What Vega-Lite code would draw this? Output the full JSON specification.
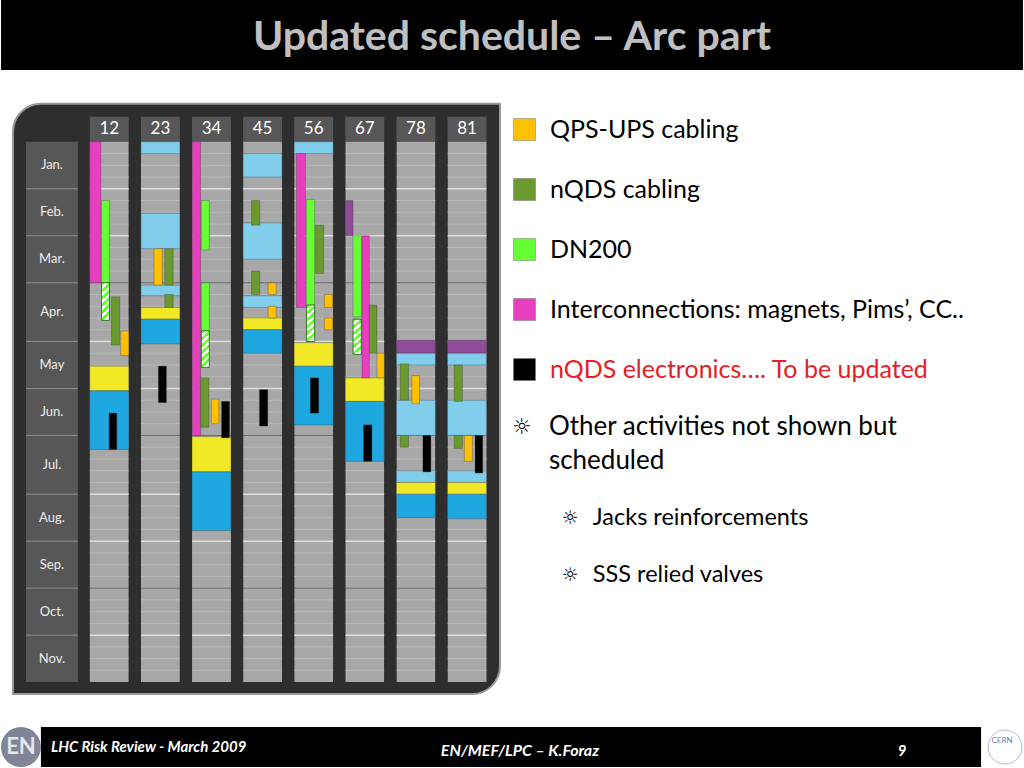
{
  "$schema": "https://vega.github.io/schema/vega-lite/v6.json",
  "width": 1024,
  "height": 768,
  "autosize": {"type": "fit", "contains": "padding"},
  "padding": 0,
  "background": "#ffffff",
  "config": {"view": {"stroke": null}, "text": {"font": "Lato"}},
  "encoding": {
    "x": {"field": "x0", "type": "quantitative", "scale": {"domain": [-1.73828, 18.26172], "nice": false, "zero": false}, "axis": null},
    "y": {"field": "y0", "type": "quantitative", "scale": {"domain": [-12.0738, 53.2268], "nice": false, "zero": false, "reverse": true}, "axis": null}
  },
  "layer": [
    {
      "data": {"values": [{"x0": -1.73828, "x1": 18.26172, "y0": -12.0738, "y1": -6.1223}]},
      "mark": {"type": "rect", "fill": "#000000"},
      "encoding": {"x2": {"field": "x1"}, "y2": {"field": "y1"}}
    },
    {
      "data": {"values": [{"label": "Updated schedule – Arc part", "x0": 8.262, "y0": -7.822}]},
      "mark": {"type": "text", "font": "Lato", "fontWeight": "bold", "fontSize": 41, "fill": "#c0c0c0", "align": "center", "baseline": "alphabetic"},
      "encoding": {"text": {"field": "label"}}
    },
    {
      "data": {"values": [{"x0": -1.504, "x1": 8.027, "y0": -3.231, "y1": 47.02}]},
      "mark": {"type": "rect", "fill": "#2e2e2e", "stroke": "#9a9a9a", "strokeWidth": 2, "cornerRadiusTopLeft": 28, "cornerRadiusBottomRight": 28},
      "encoding": {"x2": {"field": "x1"}, "y2": {"field": "y1"}}
    },
    {
      "data": {"values": [{"x0": -1.25, "x1": -0.234, "y0": 0, "y1": 46}]},
      "mark": {"type": "rect", "fill": "#575757"},
      "encoding": {"x2": {"field": "x1"}, "y2": {"field": "y1"}}
    },
    {
      "data": {"values": [
        {"x0": -1.25, "x1": -0.234, "y0": 4}, {"x0": -1.25, "x1": -0.234, "y0": 8},
        {"x0": -1.25, "x1": -0.234, "y0": 12}, {"x0": -1.25, "x1": -0.234, "y0": 17},
        {"x0": -1.25, "x1": -0.234, "y0": 21}, {"x0": -1.25, "x1": -0.234, "y0": 25},
        {"x0": -1.25, "x1": -0.234, "y0": 30}, {"x0": -1.25, "x1": -0.234, "y0": 34},
        {"x0": -1.25, "x1": -0.234, "y0": 38}, {"x0": -1.25, "x1": -0.234, "y0": 42}
      ]},
      "mark": {"type": "rule", "stroke": "#8a8a8a", "strokeWidth": 1},
      "encoding": {"x2": {"field": "x1"}}
    },
    {
      "data": {"values": [
        {"month": "Jan.", "x0": -0.742, "y0": 2}, {"month": "Feb.", "x0": -0.742, "y0": 6},
        {"month": "Mar.", "x0": -0.742, "y0": 10}, {"month": "Apr.", "x0": -0.742, "y0": 14.5},
        {"month": "May", "x0": -0.742, "y0": 19}, {"month": "Jun.", "x0": -0.742, "y0": 23},
        {"month": "Jul.", "x0": -0.742, "y0": 27.5}, {"month": "Aug.", "x0": -0.742, "y0": 32},
        {"month": "Sep.", "x0": -0.742, "y0": 36}, {"month": "Oct.", "x0": -0.742, "y0": 40},
        {"month": "Nov.", "x0": -0.742, "y0": 44}
      ]},
      "mark": {"type": "text", "font": "Lato", "fontSize": 13, "fill": "#ececec", "align": "center", "baseline": "middle"},
      "encoding": {"text": {"field": "month"}}
    },
    {
      "data": {"values": [
        {"x0": 0, "x1": 0.762, "y0": -2.126, "y1": 0}, {"x0": 1, "x1": 1.762, "y0": -2.126, "y1": 0},
        {"x0": 2, "x1": 2.762, "y0": -2.126, "y1": 0}, {"x0": 3, "x1": 3.762, "y0": -2.126, "y1": 0},
        {"x0": 4, "x1": 4.762, "y0": -2.126, "y1": 0}, {"x0": 5, "x1": 5.762, "y0": -2.126, "y1": 0},
        {"x0": 6, "x1": 6.762, "y0": -2.126, "y1": 0}, {"x0": 7, "x1": 7.762, "y0": -2.126, "y1": 0}
      ]},
      "mark": {"type": "rect", "fill": "#575757"},
      "encoding": {"x2": {"field": "x1"}, "y2": {"field": "y1"}}
    },
    {
      "data": {"values": [
        {"sector": "12", "x0": 0.381, "y0": -1.105}, {"sector": "23", "x0": 1.381, "y0": -1.105},
        {"sector": "34", "x0": 2.381, "y0": -1.105}, {"sector": "45", "x0": 3.381, "y0": -1.105},
        {"sector": "56", "x0": 4.381, "y0": -1.105}, {"sector": "67", "x0": 5.381, "y0": -1.105},
        {"sector": "78", "x0": 6.381, "y0": -1.105}, {"sector": "81", "x0": 7.381, "y0": -1.105}
      ]},
      "mark": {"type": "text", "font": "Lato", "fontSize": 17, "fill": "#ffffff", "align": "center", "baseline": "middle"},
      "encoding": {"text": {"field": "sector"}}
    },
    {
      "data": {"values": [
        {"x0": 0, "x1": 0.762, "y0": 0, "y1": 46}, {"x0": 1, "x1": 1.762, "y0": 0, "y1": 46},
        {"x0": 2, "x1": 2.762, "y0": 0, "y1": 46}, {"x0": 3, "x1": 3.762, "y0": 0, "y1": 46},
        {"x0": 4, "x1": 4.762, "y0": 0, "y1": 46}, {"x0": 5, "x1": 5.762, "y0": 0, "y1": 46},
        {"x0": 6, "x1": 6.762, "y0": 0, "y1": 46}, {"x0": 7, "x1": 7.762, "y0": 0, "y1": 46}
      ]},
      "mark": {"type": "rect", "fill": "#a8a8a8"},
      "encoding": {"x2": {"field": "x1"}, "y2": {"field": "y1"}}
    },
    {
      "data": {"values": [
        {"x0": 0, "x1": 7.762, "y0": 1}, {"x0": 0, "x1": 7.762, "y0": 2}, {"x0": 0, "x1": 7.762, "y0": 3},
        {"x0": 0, "x1": 7.762, "y0": 5}, {"x0": 0, "x1": 7.762, "y0": 6}, {"x0": 0, "x1": 7.762, "y0": 7},
        {"x0": 0, "x1": 7.762, "y0": 9}, {"x0": 0, "x1": 7.762, "y0": 10}, {"x0": 0, "x1": 7.762, "y0": 11},
        {"x0": 0, "x1": 7.762, "y0": 13}, {"x0": 0, "x1": 7.762, "y0": 14}, {"x0": 0, "x1": 7.762, "y0": 15},
        {"x0": 0, "x1": 7.762, "y0": 16}, {"x0": 0, "x1": 7.762, "y0": 18}, {"x0": 0, "x1": 7.762, "y0": 19},
        {"x0": 0, "x1": 7.762, "y0": 20}, {"x0": 0, "x1": 7.762, "y0": 22}, {"x0": 0, "x1": 7.762, "y0": 23},
        {"x0": 0, "x1": 7.762, "y0": 24}, {"x0": 0, "x1": 7.762, "y0": 26}, {"x0": 0, "x1": 7.762, "y0": 27},
        {"x0": 0, "x1": 7.762, "y0": 28}, {"x0": 0, "x1": 7.762, "y0": 29}, {"x0": 0, "x1": 7.762, "y0": 31},
        {"x0": 0, "x1": 7.762, "y0": 32}, {"x0": 0, "x1": 7.762, "y0": 33}, {"x0": 0, "x1": 7.762, "y0": 35},
        {"x0": 0, "x1": 7.762, "y0": 36}, {"x0": 0, "x1": 7.762, "y0": 37}, {"x0": 0, "x1": 7.762, "y0": 39},
        {"x0": 0, "x1": 7.762, "y0": 40}, {"x0": 0, "x1": 7.762, "y0": 41}, {"x0": 0, "x1": 7.762, "y0": 43},
        {"x0": 0, "x1": 7.762, "y0": 44}, {"x0": 0, "x1": 7.762, "y0": 45}
      ]},
      "mark": {"type": "rule", "stroke": "#b8b8b8", "strokeWidth": 1},
      "encoding": {"x2": {"field": "x1"}}
    },
    {
      "data": {"values": [
        {"x0": 0, "x1": 7.762, "y0": 4}, {"x0": 0, "x1": 7.762, "y0": 8}, {"x0": 0, "x1": 7.762, "y0": 17},
        {"x0": 0, "x1": 7.762, "y0": 21}, {"x0": 0, "x1": 7.762, "y0": 30}, {"x0": 0, "x1": 7.762, "y0": 34},
        {"x0": 0, "x1": 7.762, "y0": 42}
      ]},
      "mark": {"type": "rule", "stroke": "#dedede", "strokeWidth": 1.5},
      "encoding": {"x2": {"field": "x1"}}
    },
    {
      "data": {"values": [
        {"x0": 0, "x1": 7.762, "y0": 12}, {"x0": 0, "x1": 7.762, "y0": 25}, {"x0": 0, "x1": 7.762, "y0": 38}
      ]},
      "mark": {"type": "rule", "stroke": "#6e6e6e", "strokeWidth": 1},
      "encoding": {"x2": {"field": "x1"}}
    },
    {
      "data": {"values": [
        {"x0": 0.762, "x1": 1, "y0": 0, "y1": 46}, {"x0": 1.762, "x1": 2, "y0": 0, "y1": 46},
        {"x0": 2.762, "x1": 3, "y0": 0, "y1": 46}, {"x0": 3.762, "x1": 4, "y0": 0, "y1": 46},
        {"x0": 4.762, "x1": 5, "y0": 0, "y1": 46}, {"x0": 5.762, "x1": 6, "y0": 0, "y1": 46},
        {"x0": 6.762, "x1": 7, "y0": 0, "y1": 46}
      ]},
      "mark": {"type": "rect", "fill": "#2e2e2e"},
      "encoding": {"x2": {"field": "x1"}, "y2": {"field": "y1"}}
    },
    {
      "data": {"values": [
        {"sector": "12", "activity": "Yellow phase", "x0": 0, "x1": 0.762, "y0": 19.1, "y1": 21.2},
        {"sector": "12", "activity": "Blue phase", "x0": 0, "x1": 0.762, "y0": 21.2, "y1": 26.2},
        {"sector": "23", "activity": "Light-blue phase", "x0": 1, "x1": 1.762, "y0": 0, "y1": 1},
        {"sector": "23", "activity": "Light-blue phase", "x0": 1, "x1": 1.762, "y0": 6.1, "y1": 9.1},
        {"sector": "23", "activity": "Light-blue phase", "x0": 1, "x1": 1.762, "y0": 12.2, "y1": 13.1},
        {"sector": "23", "activity": "Yellow phase", "x0": 1, "x1": 1.762, "y0": 14.1, "y1": 15.1},
        {"sector": "23", "activity": "Blue phase", "x0": 1, "x1": 1.762, "y0": 15.1, "y1": 17.2},
        {"sector": "34", "activity": "Yellow phase", "x0": 2, "x1": 2.762, "y0": 25.1, "y1": 28.1},
        {"sector": "34", "activity": "Blue phase", "x0": 2, "x1": 2.762, "y0": 28.1, "y1": 33.1},
        {"sector": "45", "activity": "Light-blue phase", "x0": 3, "x1": 3.762, "y0": 1, "y1": 3},
        {"sector": "45", "activity": "Light-blue phase", "x0": 3, "x1": 3.762, "y0": 6.9, "y1": 10},
        {"sector": "45", "activity": "Light-blue phase", "x0": 3, "x1": 3.762, "y0": 13.1, "y1": 14.1},
        {"sector": "45", "activity": "Yellow phase", "x0": 3, "x1": 3.762, "y0": 15, "y1": 16},
        {"sector": "45", "activity": "Blue phase", "x0": 3, "x1": 3.762, "y0": 16, "y1": 18},
        {"sector": "56", "activity": "Light-blue phase", "x0": 4, "x1": 4.762, "y0": 0, "y1": 1},
        {"sector": "56", "activity": "Yellow phase", "x0": 4, "x1": 4.762, "y0": 17.1, "y1": 19.1},
        {"sector": "56", "activity": "Blue phase", "x0": 4, "x1": 4.762, "y0": 19.1, "y1": 24.1},
        {"sector": "67", "activity": "Yellow phase", "x0": 5, "x1": 5.762, "y0": 20.1, "y1": 22.1},
        {"sector": "67", "activity": "Blue phase", "x0": 5, "x1": 5.762, "y0": 22.1, "y1": 27.2},
        {"sector": "78", "activity": "Purple phase", "x0": 6, "x1": 6.762, "y0": 16.9, "y1": 18},
        {"sector": "78", "activity": "Light-blue phase", "x0": 6, "x1": 6.762, "y0": 18, "y1": 19},
        {"sector": "78", "activity": "Light-blue phase", "x0": 6, "x1": 6.762, "y0": 22, "y1": 25},
        {"sector": "78", "activity": "Light-blue phase", "x0": 6, "x1": 6.762, "y0": 28, "y1": 29},
        {"sector": "78", "activity": "Yellow phase", "x0": 6, "x1": 6.762, "y0": 29, "y1": 30},
        {"sector": "78", "activity": "Blue phase", "x0": 6, "x1": 6.762, "y0": 30, "y1": 32},
        {"sector": "81", "activity": "Purple phase", "x0": 7, "x1": 7.762, "y0": 16.9, "y1": 18},
        {"sector": "81", "activity": "Light-blue phase", "x0": 7, "x1": 7.762, "y0": 18, "y1": 19},
        {"sector": "81", "activity": "Light-blue phase", "x0": 7, "x1": 7.762, "y0": 22, "y1": 25},
        {"sector": "81", "activity": "Light-blue phase", "x0": 7, "x1": 7.762, "y0": 28, "y1": 29},
        {"sector": "81", "activity": "Yellow phase", "x0": 7, "x1": 7.762, "y0": 29, "y1": 30},
        {"sector": "81", "activity": "Blue phase", "x0": 7, "x1": 7.762, "y0": 30, "y1": 32.1},

        {"sector": "12", "activity": "Interconnections", "x0": 0, "x1": 0.215, "y0": 0, "y1": 12},
        {"sector": "12", "activity": "DN200", "x0": 0.229, "x1": 0.385, "y0": 5, "y1": 12},
        {"sector": "12", "activity": "nQDS cabling", "x0": 0.424, "x1": 0.586, "y0": 13.2, "y1": 17.3},
        {"sector": "12", "activity": "QPS-UPS cabling", "x0": 0.605, "x1": 0.762, "y0": 16.1, "y1": 18.2},
        {"sector": "23", "activity": "QPS-UPS cabling", "x0": 1.256, "x1": 1.42, "y0": 9.1, "y1": 12.2},
        {"sector": "23", "activity": "nQDS cabling", "x0": 1.467, "x1": 1.631, "y0": 9.1, "y1": 12.2},
        {"sector": "23", "activity": "nQDS cabling", "x0": 1.467, "x1": 1.631, "y0": 13, "y1": 14.1},
        {"sector": "34", "activity": "Interconnections", "x0": 2.006, "x1": 2.168, "y0": 0, "y1": 25},
        {"sector": "34", "activity": "DN200", "x0": 2.182, "x1": 2.338, "y0": 5, "y1": 9.2},
        {"sector": "34", "activity": "DN200", "x0": 2.182, "x1": 2.338, "y0": 12, "y1": 16.1},
        {"sector": "34", "activity": "nQDS cabling", "x0": 2.168, "x1": 2.33, "y0": 20.1, "y1": 24.3},
        {"sector": "34", "activity": "QPS-UPS cabling", "x0": 2.377, "x1": 2.525, "y0": 21.9, "y1": 24},
        {"sector": "45", "activity": "nQDS cabling", "x0": 3.164, "x1": 3.326, "y0": 5, "y1": 7.1},
        {"sector": "45", "activity": "nQDS cabling", "x0": 3.164, "x1": 3.326, "y0": 11, "y1": 13},
        {"sector": "45", "activity": "QPS-UPS cabling", "x0": 3.49, "x1": 3.646, "y0": 12, "y1": 13},
        {"sector": "45", "activity": "QPS-UPS cabling", "x0": 3.49, "x1": 3.646, "y0": 14, "y1": 15},
        {"sector": "56", "activity": "Interconnections", "x0": 4.043, "x1": 4.219, "y0": 1, "y1": 14.1},
        {"sector": "56", "activity": "DN200", "x0": 4.238, "x1": 4.4, "y0": 4.9, "y1": 13.9},
        {"sector": "56", "activity": "nQDS cabling", "x0": 4.414, "x1": 4.576, "y0": 7.1, "y1": 11.2},
        {"sector": "56", "activity": "QPS-UPS cabling", "x0": 4.59, "x1": 4.752, "y0": 13, "y1": 14.1},
        {"sector": "56", "activity": "QPS-UPS cabling", "x0": 4.59, "x1": 4.752, "y0": 15, "y1": 16},
        {"sector": "67", "activity": "Purple phase", "x0": 5, "x1": 5.15, "y0": 5, "y1": 8},
        {"sector": "67", "activity": "DN200", "x0": 5.15, "x1": 5.313, "y0": 8, "y1": 14.9},
        {"sector": "67", "activity": "Interconnections", "x0": 5.326, "x1": 5.469, "y0": 8, "y1": 20.1},
        {"sector": "67", "activity": "nQDS cabling", "x0": 5.469, "x1": 5.619, "y0": 13.9, "y1": 18},
        {"sector": "67", "activity": "QPS-UPS cabling", "x0": 5.619, "x1": 5.762, "y0": 18, "y1": 20.1},
        {"sector": "78", "activity": "nQDS cabling", "x0": 6.074, "x1": 6.236, "y0": 18.9, "y1": 22},
        {"sector": "78", "activity": "QPS-UPS cabling", "x0": 6.303, "x1": 6.451, "y0": 19.9, "y1": 22.3},
        {"sector": "78", "activity": "nQDS cabling", "x0": 6.074, "x1": 6.236, "y0": 25, "y1": 26},
        {"sector": "81", "activity": "nQDS cabling", "x0": 7.129, "x1": 7.291, "y0": 19, "y1": 22.1},
        {"sector": "81", "activity": "nQDS cabling", "x0": 7.129, "x1": 7.291, "y0": 25, "y1": 26.1},
        {"sector": "81", "activity": "QPS-UPS cabling", "x0": 7.33, "x1": 7.486, "y0": 25, "y1": 27.2},

        {"sector": "12", "activity": "nQDS electronics", "x0": 0.377, "x1": 0.527, "y0": 23.1, "y1": 26.2},
        {"sector": "23", "activity": "nQDS electronics", "x0": 1.342, "x1": 1.498, "y0": 19.1, "y1": 22.2},
        {"sector": "34", "activity": "nQDS electronics", "x0": 2.578, "x1": 2.734, "y0": 22.1, "y1": 25.2},
        {"sector": "45", "activity": "nQDS electronics", "x0": 3.32, "x1": 3.482, "y0": 21.1, "y1": 24.2},
        {"sector": "56", "activity": "nQDS electronics", "x0": 4.316, "x1": 4.479, "y0": 20.1, "y1": 23.1},
        {"sector": "67", "activity": "nQDS electronics", "x0": 5.357, "x1": 5.521, "y0": 24.1, "y1": 27.2},
        {"sector": "78", "activity": "nQDS electronics", "x0": 6.518, "x1": 6.674, "y0": 25, "y1": 28.1},
        {"sector": "81", "activity": "nQDS electronics", "x0": 7.539, "x1": 7.689, "y0": 25, "y1": 28.2}
      ]},
      "mark": {"type": "rect", "stroke": "#333333", "strokeOpacity": 0.4, "strokeWidth": 0.8},
      "encoding": {
        "x2": {"field": "x1"},
        "y2": {"field": "y1"},
        "color": {
          "field": "activity",
          "type": "nominal",
          "scale": {
            "domain": ["QPS-UPS cabling", "nQDS cabling", "DN200", "Interconnections", "nQDS electronics", "Light-blue phase", "Yellow phase", "Blue phase", "Purple phase"],
            "range": ["#ffc000", "#6a9a2e", "#66ff33", "#e83fc1", "#000000", "#80cdec", "#f1e926", "#1fa7e0", "#8e4c97"]
          },
          "legend": {
            "orient": "none",
            "legendX": 511,
            "legendY": 117,
            "title": null,
            "padding": 0,
            "values": ["QPS-UPS cabling", "nQDS cabling", "DN200", "Interconnections", "nQDS electronics"],
            "symbolType": "square",
            "symbolSize": 484,
            "symbolStrokeColor": "#777777",
            "symbolStrokeWidth": 0.5,
            "symbolOpacity": 1,
            "labelFont": "Lato",
            "labelFontSize": 25,
            "labelColor": "#000000",
            "labelOffset": 13,
            "labelLimit": 700,
            "rowPadding": 34,
            "labelExpr": "datum.value == 'Interconnections' ? 'Interconnections: magnets, Pims’, CC..' : (datum.value == 'nQDS electronics' ? 'nQDS electronics…. To be updated' : datum.label)",
            "encode": {"labels": {"update": {"fill": {"signal": "datum.value === 'nQDS electronics' ? '#e81c24' : '#000000'"}}}}
          }
        }
      }
    },
    {
      "data": {"values": [
        {"sector": "12", "activity": "DN200 (hatched)", "x0": 0.229, "x1": 0.385, "y0": 12, "y1": 15.2},
        {"sector": "34", "activity": "DN200 (hatched)", "x0": 2.182, "x1": 2.338, "y0": 16.1, "y1": 19.2},
        {"sector": "56", "activity": "DN200 (hatched)", "x0": 4.238, "x1": 4.4, "y0": 13.9, "y1": 17},
        {"sector": "67", "activity": "DN200 (hatched)", "x0": 5.15, "x1": 5.313, "y0": 15.1, "y1": 18.1}
      ]},
      "mark": {
        "type": "rect",
        "stroke": "#2f7a1f",
        "strokeWidth": 1,
        "fill": {
          "gradient": "linear", "x1": 0, "y1": 0, "x2": 0.2, "y2": 1,
          "stops": [
            {"offset": 0, "color": "#66ff33"}, {"offset": 0.09, "color": "#66ff33"},
            {"offset": 0.09, "color": "#ffffff"}, {"offset": 0.18, "color": "#ffffff"},
            {"offset": 0.18, "color": "#66ff33"}, {"offset": 0.27, "color": "#66ff33"},
            {"offset": 0.27, "color": "#ffffff"}, {"offset": 0.36, "color": "#ffffff"},
            {"offset": 0.36, "color": "#66ff33"}, {"offset": 0.45, "color": "#66ff33"},
            {"offset": 0.45, "color": "#ffffff"}, {"offset": 0.54, "color": "#ffffff"},
            {"offset": 0.54, "color": "#66ff33"}, {"offset": 0.63, "color": "#66ff33"},
            {"offset": 0.63, "color": "#ffffff"}, {"offset": 0.72, "color": "#ffffff"},
            {"offset": 0.72, "color": "#66ff33"}, {"offset": 0.81, "color": "#66ff33"},
            {"offset": 0.81, "color": "#ffffff"}, {"offset": 0.9, "color": "#ffffff"},
            {"offset": 0.9, "color": "#66ff33"}, {"offset": 0.99, "color": "#66ff33"},
            {"offset": 0.99, "color": "#ffffff"}, {"offset": 1, "color": "#ffffff"}
          ]
        }
      },
      "encoding": {"x2": {"field": "x1"}, "y2": {"field": "y1"}}
    },
    {
      "data": {"values": [
        {"label": "☼", "x0": 8.457, "y0": 24.318}
      ]},
      "mark": {"type": "text", "font": "DejaVu Sans", "fontSize": 22, "fill": "#000000", "align": "center", "baseline": "middle"},
      "encoding": {"text": {"field": "label"}}
    },
    {
      "data": {"values": [
        {"label": "☼", "x0": 9.395, "y0": 32.055},
        {"label": "☼", "x0": 9.395, "y0": 36.902}
      ]},
      "mark": {"type": "text", "font": "DejaVu Sans", "fontSize": 19, "fill": "#000000", "align": "center", "baseline": "middle"},
      "encoding": {"text": {"field": "label"}}
    },
    {
      "data": {"values": [
        {"label": "Other activities not shown but", "x0": 8.984, "y0": 24.318},
        {"label": "scheduled", "x0": 8.984, "y0": 27.209}
      ]},
      "mark": {"type": "text", "font": "Lato", "fontSize": 26, "fill": "#000000", "align": "left", "baseline": "middle"},
      "encoding": {"text": {"field": "label"}}
    },
    {
      "data": {"values": [
        {"label": "Jacks reinforcements", "x0": 9.844, "y0": 32.055},
        {"label": "SSS relied valves", "x0": 9.844, "y0": 36.902}
      ]},
      "mark": {"type": "text", "font": "Lato", "fontSize": 23.5, "fill": "#000000", "align": "left", "baseline": "middle"},
      "encoding": {"text": {"field": "label"}}
    },
    {
      "data": {"values": [{"x0": -0.957, "x1": 17.441, "y0": 49.826, "y1": 53.2268}]},
      "mark": {"type": "rect", "fill": "#000000"},
      "encoding": {"x2": {"field": "x1"}, "y2": {"field": "y1"}}
    },
    {
      "data": {"values": [{"label": "LHC Risk Review - March 2009", "x0": -0.762, "y0": 51.527}]},
      "mark": {"type": "text", "font": "Lato", "fontSize": 15, "fontStyle": "italic", "fontWeight": "bold", "fill": "#ffffff", "align": "left", "baseline": "middle"},
      "encoding": {"text": {"field": "label"}}
    },
    {
      "data": {"values": [
        {"label": "EN/MEF/LPC – K.Foraz", "x0": 8.418, "y0": 51.867}
      ]},
      "mark": {"type": "text", "font": "Lato", "fontSize": 16, "fontStyle": "italic", "fontWeight": "bold", "fill": "#ffffff", "align": "center", "baseline": "middle"},
      "encoding": {"text": {"field": "label"}}
    },
    {
      "data": {"values": [
        {"label": "9", "x0": 15.898, "y0": 51.867}
      ]},
      "mark": {"type": "text", "font": "Lato", "fontSize": 15, "fontStyle": "italic", "fontWeight": "bold", "fill": "#ffffff", "align": "center", "baseline": "middle"},
      "encoding": {"text": {"field": "label"}}
    },
    {
      "data": {"values": [{"x0": -1.348, "y0": 51.527}]},
      "mark": {"type": "point", "shape": "circle", "filled": true, "size": 1600, "fill": "#7f8597", "opacity": 1}
    },
    {
      "data": {"values": [{"label": "EN", "x0": -1.348, "y0": 51.527}]},
      "mark": {"type": "text", "font": "Lato", "fontSize": 22, "fontWeight": "bold", "fill": "#e4e6ec", "align": "center", "baseline": "middle"},
      "encoding": {"text": {"field": "label"}}
    },
    {
      "data": {"values": [{"x0": 17.91, "y0": 51.527}]},
      "mark": {"type": "point", "shape": "circle", "filled": false, "size": 1156, "stroke": "#8d9bc9", "strokeWidth": 1}
    },
    {
      "data": {"values": [{"label": "CERN", "x0": 17.85, "y0": 51.016}]},
      "mark": {"type": "text", "font": "Lato", "fontSize": 8, "fill": "#6a7ab0", "align": "center", "baseline": "middle"},
      "encoding": {"text": {"field": "label"}}
    }
  ]
}
